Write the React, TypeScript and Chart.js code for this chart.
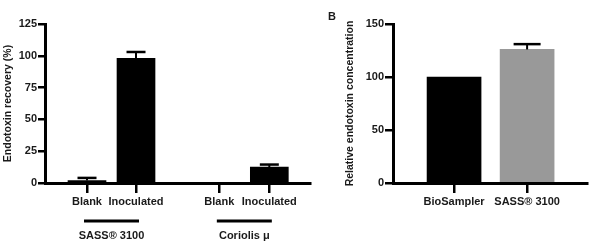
import React, { useEffect, useRef } from 'react';
import { Chart, registerables } from 'chart.js';
Chart.register(...registerables);

// ---- Data: panel A ----
const leftLabels = ['Blank', 'Inoculated', 'Blank', 'Inoculated'];
const leftX = [1, 2, 3.7, 4.72];
const leftValues = [2, 98, 0, 12.5];
const leftErrors = [2, 5, 0, 2];
const groupNames = ['SASS® 3100', 'Coriolis μ'];
const groupMembers = [[0, 1], [2, 3]];
const leftYTicks = [0, 25, 50, 75, 100, 125];

// ---- Data: panel B ----
const rightLabels = ['BioSampler', 'SASS® 3100'];
const rightX = [1, 2];
const rightValues = [100, 126];
const rightErrors = [0, 5];
const rightColors = ['#000000', '#999999'];
const rightYTicks = [0, 50, 100, 150];

const FONT = "'Liberation Sans', Arial, Helvetica, sans-serif";
const TXT = '#1a1a1a';

function errorPlugin(errors: number[]) {
  return {
    id: 'errbars',
    afterDatasetsDraw(chart: any) {
      const meta = chart.getDatasetMeta(0);
      const ys = chart.scales.y;
      const ctx = chart.ctx;
      const ds = chart.data.datasets[0].data as any[];
      ctx.save();
      ctx.strokeStyle = '#000';
      meta.data.forEach((el: any, i: number) => {
        const e = errors[i];
        if (!e) return;
        const v = ds[i].y;
        const yTop = ys.getPixelForValue(v + e);
        const half = el.width / 4;
        ctx.lineWidth = 2;
        ctx.beginPath();
        ctx.moveTo(el.x, el.y);
        ctx.lineTo(el.x, yTop);
        ctx.stroke();
        ctx.lineWidth = 2.5;
        ctx.beginPath();
        ctx.moveTo(el.x - half, yTop);
        ctx.lineTo(el.x + half, yTop);
        ctx.stroke();
      });
      ctx.restore();
    },
  };
}

const groupPlugin = {
  id: 'groups',
  afterDraw(chart: any) {
    const xs = chart.scales.x;
    const bottom = chart.chartArea.bottom;
    const ctx = chart.ctx;
    ctx.save();
    groupNames.forEach((name, g) => {
      const px = groupMembers[g].map((i) => xs.getPixelForValue(leftX[i]));
      const c = (px[0] + px[px.length - 1]) / 2;
      ctx.strokeStyle = '#000';
      ctx.lineWidth = 3;
      ctx.beginPath();
      ctx.moveTo(c - 27.5, bottom + 38);
      ctx.lineTo(c + 27.5, bottom + 38);
      ctx.stroke();
      ctx.fillStyle = TXT;
      ctx.font = `bold 11px ${FONT}`;
      ctx.textAlign = 'center';
      ctx.textBaseline = 'middle';
      ctx.fillText(name, c, bottom + 53);
    });
    ctx.restore();
  },
};

const panelLabelPlugin = {
  id: 'panelLabel',
  afterDraw(chart: any) {
    const ctx = chart.ctx;
    ctx.save();
    ctx.fillStyle = TXT;
    ctx.font = `bold 11px ${FONT}`;
    ctx.textAlign = 'center';
    ctx.textBaseline = 'middle';
    ctx.fillText('B', 17, 17);
    ctx.restore();
  },
};

function axisCommon(ticksArr: number[], max: number, width: number, title: string, titlePad: number, tickLen: number) {
  return {
    type: 'linear',
    min: 0,
    max,
    afterFit: (s: any) => { s.width = width; },
    afterBuildTicks: (s: any) => { s.ticks = ticksArr.map((v) => ({ value: v })); },
    border: { display: true, color: '#000', width: 3 },
    grid: { drawOnChartArea: false, drawTicks: true, tickLength: tickLen, lineWidth: 2.5, color: '#000' },
    ticks: { color: TXT, font: { family: FONT, size: 11, weight: 'bold' }, padding: 1 },
    title: { display: true, text: title, color: TXT, font: { family: FONT, size: 10.5, weight: 'bold' }, padding: { top: titlePad, bottom: 0 } },
  };
}

function xAxis(xs: number[], labels: string[], min: number, max: number) {
  return {
    type: 'linear',
    min,
    max,
    offset: false,
    afterFit: (s: any) => { s.height = 69; },
    afterBuildTicks: (s: any) => { s.ticks = xs.map((v) => ({ value: v })); },
    border: { display: true, color: '#000', width: 3 },
    grid: { offset: false, drawOnChartArea: false, drawTicks: true, tickLength: 10, lineWidth: 2.5, color: '#000' },
    ticks: {
      autoSkip: false,
      maxRotation: 0,
      minRotation: 0,
      padding: 2,
      color: TXT,
      font: { family: FONT, size: 11, weight: 'bold' },
      callback: (_v: any, i: number) => labels[i],
    },
  };
}

export default function App() {
  const leftRef = useRef<HTMLCanvasElement>(null);
  const rightRef = useRef<HTMLCanvasElement>(null);

  useEffect(() => {
    const left = new Chart(leftRef.current as HTMLCanvasElement, {
      type: 'bar',
      data: {
        datasets: [{
          data: leftX.map((x, i) => ({ x, y: leftValues[i] })),
          backgroundColor: '#000',
          borderWidth: 0,
          barThickness: 38,
        }],
      },
      options: {
        animation: false,
        responsive: false,
        maintainAspectRatio: false,
        layout: { padding: { left: 0, right: 5, top: 24, bottom: 0 } },
        plugins: { legend: { display: false }, tooltip: { enabled: false } },
        scales: {
          x: xAxis(leftX, leftLabels, 0.143, 5.55),
          y: axisCommon(leftYTicks, 125, 45, 'Endotoxin recovery (%)', 2, 7),
        },
      } as any,
      plugins: [errorPlugin(leftErrors), groupPlugin],
    });

    const right = new Chart(rightRef.current as HTMLCanvasElement, {
      type: 'bar',
      data: {
        datasets: [{
          data: rightX.map((x, i) => ({ x, y: rightValues[i] })),
          backgroundColor: rightColors,
          borderWidth: 0,
          barThickness: 54,
        }],
      },
      options: {
        animation: false,
        responsive: false,
        maintainAspectRatio: false,
        layout: { padding: { left: 0, right: 4, top: 24, bottom: 0 } },
        plugins: { legend: { display: false }, tooltip: { enabled: false } },
        scales: {
          x: xAxis(rightX, rightLabels, 0.164, 2.82),
          y: axisCommon(rightYTicks, 150, 78, 'Relative endotoxin concentration', 29, 8),
        },
      } as any,
      plugins: [errorPlugin(rightErrors), panelLabelPlugin],
    });

    return () => { left.destroy(); right.destroy(); };
  }, []);

  return (
    <div style={{ position: 'absolute', left: 0, top: 0, width: 591, height: 252, background: '#fff' }}>
      <canvas ref={leftRef} width={315} height={252} style={{ position: 'absolute', left: 0, top: 0, width: 315, height: 252 }} />
      <canvas ref={rightRef} width={276} height={252} style={{ position: 'absolute', left: 315, top: 0, width: 276, height: 252 }} />
    </div>
  );
}
